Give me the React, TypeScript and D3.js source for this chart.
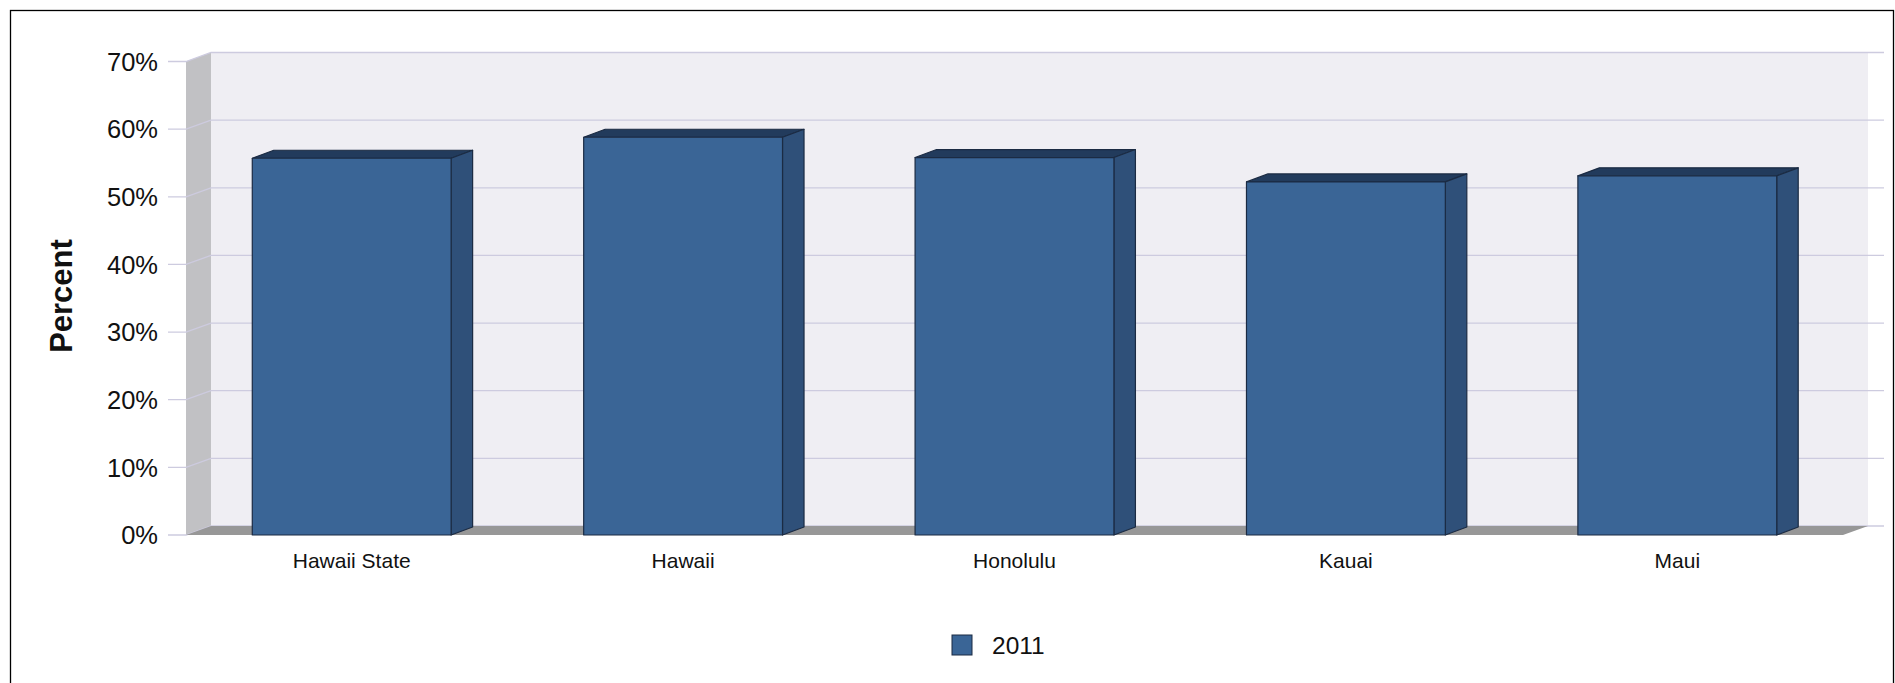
import React from "react";
import * as d3 from "d3";

const categories = ["Hawaii State", "Hawaii", "Honolulu", "Kauai", "Maui"];
const values2011 = [55.7, 58.8, 55.8, 52.2, 53.1];
const yTicks = [0, 10, 20, 30, 40, 50, 60, 70];
const seriesName = "2011";

const W = 1895;
const H = 683;
const FONT = "'Liberation Sans', Arial, Helvetica, sans-serif";

// 3D offsets
const wallDx = 25;
const wallDy = -9;
const barDx = 21.5;
const barDy = -8;

export default function App() {
  const x = d3.scaleBand<string>().domain(categories).range([186, 1843]).paddingInner(0.4).paddingOuter(0.2);
  const y = d3.scaleLinear().domain([0, 70]).range([535, 61.5]);

  const left = 186;
  const right = 1843;
  const y0 = y(0);
  const yTop = y(70);

  return (
    <svg width={W} height={H} style={{ position: "absolute", left: 0, top: 0 }} fontFamily={FONT}>
      <rect x={0} y={0} width={W} height={H} fill="#fff" />
      <rect x={10.5} y={10.5} width={1883} height={H + 10} fill="none" stroke="#000" strokeWidth={1.3} />

      {/* back wall */}
      <rect x={left + wallDx} y={yTop + wallDy} width={right - left} height={y0 - yTop} fill="#efeef3" />
      {/* side wall */}
      <path
        d={`M${left},${yTop}L${left + wallDx},${yTop + wallDy}L${left + wallDx},${y0 + wallDy}L${left},${y0}Z`}
        fill="#c1c1c4"
      />

      {/* gridlines */}
      {yTicks.map((t) => (
        <g key={t}>
          <path
            d={`M168,${y(t)}L${left},${y(t)}L${left + wallDx},${y(t) + wallDy}L1884,${y(t) + wallDy}`}
            fill="none"
            stroke="#cdcbdf"
            strokeWidth={1.3}
          />
          <text x={158} y={y(t)} dy="0.36em" textAnchor="end" fontSize={25.5} fill="#111">
            {`${t}%`}
          </text>
        </g>
      ))}

      {/* floor */}
      <path
        d={`M${left},${y0}L${left + wallDx},${y0 + wallDy}L${right + wallDx},${y0 + wallDy}L${right},${y0}Z`}
        fill="#979797"
      />

      {/* bars */}
      {categories.map((c, i) => {
        const bx = x(c)!;
        const bw = x.bandwidth();
        const by = y(values2011[i]);
        return (
          <g key={c} stroke="#1b2b43" strokeWidth={1.2} strokeLinejoin="round">
            <path
              d={`M${bx},${by}L${bx + barDx},${by + barDy}L${bx + bw + barDx},${by + barDy}L${bx + bw},${by}Z`}
              fill="#223b5c"
            />
            <path
              d={`M${bx + bw},${by}L${bx + bw + barDx},${by + barDy}L${bx + bw + barDx},${y0 + barDy}L${bx + bw},${y0}Z`}
              fill="#2f5079"
            />
            <rect x={bx} y={by} width={bw} height={y0 - by} fill="#3a6596" />
          </g>
        );
      })}

      {/* category labels */}
      {categories.map((c) => (
        <text key={c} x={x(c)! + x.bandwidth() / 2} y={568} textAnchor="middle" fontSize={21} fill="#111">
          {c}
        </text>
      ))}

      {/* y axis title */}
      <text transform="translate(72,296) rotate(-90)" textAnchor="middle" fontSize={31} fontWeight="bold" fill="#111">
        Percent
      </text>

      {/* legend */}
      <rect x={952} y={635} width={20} height={20} fill="#3a6596" stroke="#1b2b43" strokeWidth={1} />
      <text x={992} y={654} fontSize={24.5} fill="#111">
        {seriesName}
      </text>
    </svg>
  );
}
